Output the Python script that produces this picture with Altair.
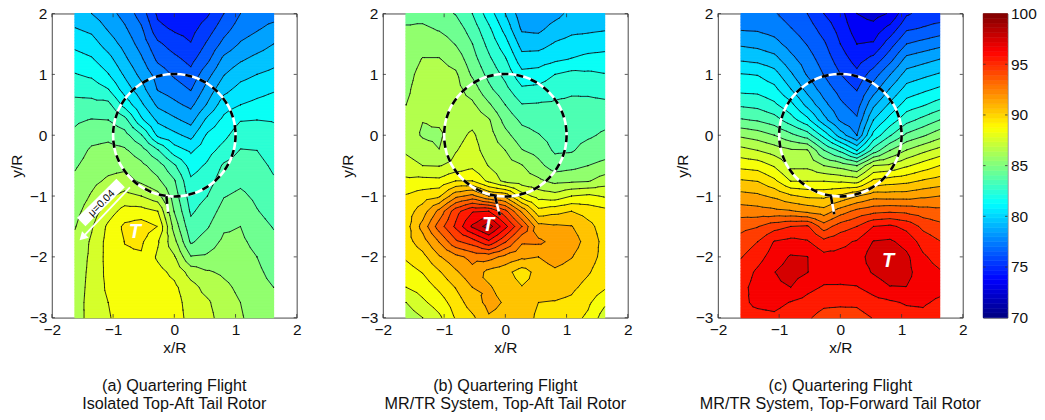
import numpy as np
import pandas as pd
import altair as alt

alt.data_transformers.disable_max_rows()

PANEL_A = [
 [79.4,80.05,80.75,81.4,82.05,82.7,83.3,83.85,84.2,84.55,84.9,85.2,85.45,85.7,85.95,86.2,86.4,86.5,86.55,86.6,86.65],
 [79,79.75,80.45,81.1,81.8,82.6,83.3,84.05,84.65,85.15,85.4,85.75,86.1,86.5,86.9,87.15,87.2,87.25,87.3,87.35,87.3],
 [78.4,78.9,79.55,80.35,81.05,82.05,83.3,84,84.75,85.3,85.7,86.15,86.8,87.5,88.2,88.35,88.35,88.3,88.2,88,87.9],
 [77.65,78.15,78.65,79.2,79.85,80.55,81.65,83.35,84.35,85.15,85.75,86.4,87.3,88.4,89.2,89.02,88.9,88.8,88.7,88.6,88.5],
 [76.55,77.15,77.6,78.15,78.7,79.4,80.2,81.2,83.1,84.45,85.25,85.8,87,88.4,89.5,89.15,88.9,88.8,88.7,88.6,88.5],
 [74.8,75.3,76.2,76.8,77.6,77.95,78.8,79.8,80.8,83.1,84.5,85.2,86.35,88,88.98,88.1,87.85,88.3,88.5,88.5,88.5],
 [74.3,74.85,75.55,76.25,76.85,77.5,78.25,79.2,80.25,81.45,83.15,84.1,84.5,84.95,85.6,86.3,87.1,87.75,88.2,88.45,88.55],
 [74.3,74.65,75.05,75.7,76.3,76.95,77.75,78.65,79.7,80.85,81.6,82.15,82.5,82.85,83.3,83.85,85.05,86.6,87.35,87.5,87.6],
 [74.85,75.5,76.15,76.75,77.65,78.4,79.1,80.25,81.15,81.65,82.15,82.55,83,83.45,83.9,84.5,85.15,86.1,86.65,87.15,87.35],
 [76,76.6,77.3,78.25,78.95,79.7,80.55,81.25,81.75,82.35,83.15,83.55,83.95,84.4,84.85,85.2,85.5,85.85,86.2,86.4,86.5],
 [77,77.5,78.1,78.85,79.65,80.35,81,81.95,82.55,83.05,83.45,83.8,84.2,84.6,85,85.2,85.4,85.6,85.8,86,86.1],
 [77.5,77.9,78.5,79.3,80,80.65,81.25,82,82.5,83,83.3,83.55,83.8,84.05,84.35,84.7,85,85.2,85.35,85.5,85.6],
 [77.6,78.3,79,79.65,80.25,80.9,81.45,81.95,82.25,82.55,82.85,83.1,83.4,83.65,83.95,84.2,84.45,84.7,85,85.2,85.4],
]
PANEL_B = [
 [84.7,85.1,85.35,85.5,85.7,85.85,86,86.25,86.5,86.85,87.4,88.2,89.1,89.5,89.6,89.6,89.15,88.55,88,87,86.4],
 [84.6,85.2,85.6,86.05,86.3,86.4,86.4,86.02,85.9,86.45,87,88.3,89.5,90.5,91.35,90.55,89.7,89.05,88.45,87.8,87],
 [84.3,84.9,85.55,86.05,86.4,86.5,86.45,86.2,85.8,86.02,86.95,88.25,89.85,92.3,93.5,92.05,90.9,89.9,89.2,88.5,87.8],
 [83.95,84.5,84.95,85.6,86.15,86.35,86.45,86.55,86.7,86.95,87.3,89,91.7,94.6,95.2,93.8,91.7,90.85,90.05,89.5,89.1],
 [83,83.55,84.02,84.4,84.85,85.55,86.2,86.7,87.15,87.4,87.75,89,92.3,95.9,97.15,94.5,92.3,91.7,91,90.5,89.8],
 [81.5,82.2,82.7,83.2,83.7,84.25,85.15,86.1,86.4,86.55,86.95,87.75,91,96,98.5,95.8,92.4,90.7,91.1,91.3,90.9],
 [80,80.65,81.4,82.1,82.7,83.3,84,84.65,85.3,86,86.4,86.7,90.7,94.3,96.3,94.1,91.7,90.35,90.6,90.9,90.7],
 [78.4,78.85,79.6,80.4,81.3,82.2,83.05,83.8,84.4,85.05,86.05,86.4,88.5,91.8,94,92.15,91.2,89.5,90.05,90.4,90.4],
 [78.2,78.75,79.6,80.5,81.4,82.3,83.1,83.6,84.05,84.65,85.3,86.2,87.6,89.35,91.35,92.2,91,90.4,90.3,90,89.85],
 [78.65,79.4,80.1,80.8,82,82.65,83.15,83.4,83.6,83.85,84.5,85.7,87.4,89.7,91.15,91.7,91.5,90.8,90.4,89.95,89.6],
 [79.3,79.75,80.35,81.05,82.3,82.85,83.2,83.4,83.65,83.9,84.7,85.8,88,90,91.05,91.5,91.05,90.55,90.2,89.8,89.4],
 [79.4,79.8,80.5,81.3,82.2,82.8,83.25,83.55,83.85,84.4,85,85.9,88.2,89.6,90.3,90.6,90.4,90.1,89.7,89.2,88.8],
 [79.55,79.9,80.65,81.35,82.05,82.65,83.2,83.7,84.15,84.6,85.25,86.5,87.9,89.3,89.55,89.7,89.7,89.5,89.15,88.2,87.5],
]
PANEL_C = [
 [77.3,77.9,78.85,79.85,81.05,81.75,82.85,84.1,85.8,87.35,88.7,90.1,91.35,92.5,93.7,94.4,94.95,95.4,95.7,95.8,95.7],
 [77.3,77.85,78.7,79.7,80.95,81.7,82.7,83.9,85.5,87,88.55,89.95,91.2,92.4,93.95,95,95.6,96.2,96.4,96.2,95.7],
 [77.1,77.6,78.35,79.35,80.4,81.3,82.2,83.45,85,86.55,87.9,89.2,90.8,92.25,94.6,96.05,96.5,96.98,96.8,96.3,95.8],
 [76.55,77.05,77.6,78.3,79.15,80.05,81.3,82.45,84.25,86.15,86.75,87.95,90.15,92.1,95,96.3,97.1,97.4,97,95.95,95.5],
 [76,76.5,76.95,77.45,77.9,78.7,79.7,81.3,83.5,86.1,86.75,87.95,89.8,91.75,95.15,96.1,97.02,97.03,96.3,95.65,95.15],
 [75,75.6,76.15,76.55,76.97,77.55,78.3,79.35,81.65,84.05,86,87.95,89.75,91.4,93.5,95.3,96.3,96.5,95.9,95.25,94.6],
 [74.35,74.65,75,75.5,76.02,76.65,77.2,77.85,79.5,82.75,85.6,87.8,90.2,92.5,94.5,95.75,96.3,96.4,95.9,95.2,94.5],
 [73,73.5,74,74.6,75.25,75.95,76.55,77.15,78,80.95,85,87.55,90.95,93.3,95,96.1,96.4,96.5,95.95,95.2,94.6],
 [72.6,73.4,74.1,75.3,76.5,77.55,78.8,80,81.3,83.4,87,89.2,91.6,93.7,96,97.05,97.6,97.1,96.4,95.65,95.05],
 [73.1,74.35,75.55,76.65,77.95,79.1,80.2,81.4,82.9,85,87.2,89.5,91.55,93.85,96.2,97.15,97.7,97.6,96.95,95.85,95.35],
 [74.85,75.85,77,78.3,79.4,80.4,81.45,82.65,84.2,86.05,87.85,89.7,91.55,93.75,95.7,96.65,97.2,97.3,96.98,96.1,95.6],
 [75.35,76.1,77.35,78.65,79.75,80.8,81.9,83.3,84.85,86.75,88.45,90.1,91.8,93.45,94.75,95.6,96.15,96.45,96.5,96.15,95.7],
 [75.4,76.4,77.7,79,80.1,81.2,82.45,84,85.6,87.35,89,90.4,92,93.3,94.3,95.05,95.6,96.1,96.35,95.8,95.2],
]
CAPTIONS = [
    ["(a) Quartering Flight", "Isolated Top-Aft Tail Rotor"],
    ["(b) Quartering Flight", "MR/TR System, Top-Aft Tail Rotor"],
    ["(c) Quartering Flight", "MR/TR System, Top-Forward Tail Rotor"],
]
X_TICKS = [-2, -1, 0, 1, 2]
Y_TICKS = [-3, -2, -1, 0, 1, 2]
BAR_TICKS = [70, 75, 80, 85, 90, 95, 100]
T_MARKS = [(-0.643, -1.59), (-0.283, -1.475), (0.779, -2.07)]
TAILS = [((-0.13, -1.0), (-0.10, -1.28)), ((-0.17, -1.0), (-0.09, -1.32)), ((-0.155, -1.0), (-0.10, -1.3))]
MU_BOX = ((-1.52, -1.425), (-0.877, -0.785))
MU_TEXT = (-1.186, -1.12)
MU_ARROW = ((-0.725, -0.856), (-1.50, -1.68))
X_GRID_START, X_GRID_STEP = -1.62, 0.27
Y_GRID_START, Y_GRID_STEP = 2.0, -0.25
W, H = 245.6, 305.0
FONT = "Liberation Sans"


def jet(v):
    t = np.clip((np.asarray(v, dtype=float) - 70) / 30, 0, 1)
    r = np.clip(np.minimum(4 * t - 1.5, -4 * t + 4.5), 0, 1)
    g = np.clip(np.minimum(4 * t - 0.5, -4 * t + 3.5), 0, 1)
    b = np.clip(np.minimum(4 * t + 0.5, -4 * t + 2.5), 0, 1)
    return r, g, b


def hexcol(v):
    r, g, b = jet(v)
    return "#%02x%02x%02x" % (int(r * 255 + .5), int(g * 255 + .5), int(b * 255 + .5))


def field(Z, x, y):
    """Piecewise-linear reading of the grid (each cell cut in four triangles)."""
    fx = (x - X_GRID_START) / X_GRID_STEP
    fy = (y - Y_GRID_START) / Y_GRID_STEP
    j = np.clip(np.floor(fx).astype(int), 0, Z.shape[0] - 2)
    i = np.clip(np.floor(fy).astype(int), 0, Z.shape[1] - 2)
    u, v = fx - j, fy - i
    a, b, c, d = Z[j, i], Z[j + 1, i], Z[j, i + 1], Z[j + 1, i + 1]
    m = (a + b + c + d) / 4
    bottom = (v <= u) & (v <= 1 - u)
    right = (v <= u) & (v > 1 - u)
    top = (v > u) & (v > 1 - u)
    z = np.where(bottom, 2 * v * m + (1 - u - v) * a + (u - v) * b,
        np.where(right, 2 * (1 - u) * m + (u - v) * b + (u + v - 1) * d,
        np.where(top, 2 * (1 - v) * m + (u + v - 1) * d + (v - u) * c,
                 2 * u * m + (v - u) * c + (1 - u - v) * a)))
    return z


def band_rects(Z):
    rows = 204
    ys = np.linspace(-3, 2, rows + 1)
    xs = np.linspace(X_GRID_START, -X_GRID_START, 399)
    mids = (xs[:-1] + xs[1:]) / 2
    out = []
    for k in range(rows):
        yc = (ys[k] + ys[k + 1]) / 2
        z = np.floor(field(Z, mids, np.full_like(mids, yc)))
        s = 0
        for e in range(1, len(z) + 1):
            if e == len(z) or z[e] != z[s]:
                out.append((round(xs[s], 3), round(xs[e], 3), round(ys[k], 3), round(ys[k + 1], 3),
                            hexcol(z[s] + .5)))
                s = e
    return pd.DataFrame(out, columns=["x0", "x1", "y0", "y1", "c"])


def contour_segments(Z):
    out = []
    nx, ny = Z.shape
    for j in range(nx - 1):
        for i in range(ny - 1):
            X = [X_GRID_START + j * X_GRID_STEP, X_GRID_START + (j + 1) * X_GRID_STEP]
            Y = [Y_GRID_START + i * Y_GRID_STEP, Y_GRID_START + (i + 1) * Y_GRID_STEP]
            p = [(X[0], Y[0], Z[j, i]), (X[1], Y[0], Z[j + 1, i]),
                 (X[1], Y[1], Z[j + 1, i + 1]), (X[0], Y[1], Z[j, i + 1])]
            c = (sum(X) / 2, sum(Y) / 2, sum(q[2] for q in p) / 4)
            for t in range(4):
                tri = [p[t], p[(t + 1) % 4], c]
                lo, hi = min(q[2] for q in tri), max(q[2] for q in tri)
                for lev in range(int(np.ceil(lo)), int(np.floor(hi)) + 1):
                    L = lev + 1e-7
                    pts = []
                    for e in range(3):
                        A, B = tri[e], tri[(e + 1) % 3]
                        if (A[2] - L) * (B[2] - L) < 0:
                            f = (L - A[2]) / (B[2] - A[2])
                            pts.append((A[0] + f * (B[0] - A[0]), A[1] + f * (B[1] - A[1])))
                    if len(pts) == 2:
                        out.append((round(pts[0][0], 4), round(pts[1][0], 4), round(pts[0][1], 4), round(pts[1][1], 4)))
    return pd.DataFrame(out, columns=["x0", "x1", "y0", "y1"])


xs = alt.Scale(domain=[-2, 2], nice=False, zero=False)
ys = alt.Scale(domain=[-3, 2], nice=False, zero=False)
AXIS_STYLE = dict(tickSize=0, domain=False, grid=False, labelFontSize=15.5, titleFontSize=15.5, labelFont=FONT,
                  titleFont=FONT, titleFontWeight="normal", labelColor="#111", titleColor="#111", labelFlush=False)
x_axis = alt.Axis(values=X_TICKS, title="x/R", labelPadding=5, titlePadding=2, **AXIS_STYLE)
y_axis = alt.Axis(values=Y_TICKS, title="y/R", labelPadding=5, titlePadding=5, **AXIS_STYLE)


def X(f):
    return alt.X(f, scale=xs, axis=x_axis)


def Y(f):
    return alt.Y(f, scale=ys, axis=y_axis)


def panel(cols, caption, tpos, tail):
    Z = np.array(cols, dtype=float)
    fill = band_rects(Z)
    base = alt.Chart(fill).mark_rect(strokeWidth=1.2).encode(
        x=X("x0:Q"), x2="x1:Q", y=Y("y0:Q"), y2="y1:Q",
        color=alt.Color("c:N", scale=None), stroke=alt.Stroke("c:N", scale=None))
    lines = alt.Chart(contour_segments(Z)).mark_rule(color="#111", strokeWidth=0.85, strokeCap="round").encode(
        x=X("x0:Q"), x2="x1:Q", y=Y("y0:Q"), y2="y1:Q")
    ring = pd.DataFrame({"x": [0.0], "y": [0.0]})
    ring_size = float((2 * W / 4) ** 2)
    enc = dict(x=X("x:Q"), y=Y("y:Q"))
    c1 = alt.Chart(ring).mark_point(shape="circle", size=ring_size, filled=False, stroke="white", strokeWidth=2.6, opacity=1).encode(**enc)
    c2 = alt.Chart(ring).mark_point(shape="circle", size=ring_size, filled=False, stroke="black", strokeWidth=2.6, strokeDash=[7, 8], opacity=1).encode(**enc)
    tl = pd.DataFrame({"x": [tail[0][0]], "x1": [tail[1][0]], "y": [tail[0][1]], "y1": [tail[1][1]]})
    renc = dict(x=X("x:Q"), x2="x1:Q", y=Y("y:Q"), y2="y1:Q")
    t1 = alt.Chart(tl).mark_rule(color="white", strokeWidth=2.6).encode(**renc)
    t2 = alt.Chart(tl).mark_rule(color="black", strokeWidth=2.6, strokeDash=[8, 8]).encode(**renc)
    tt = alt.Chart(pd.DataFrame({"x": [tpos[0]], "y": [tpos[1]]})).mark_text(
        text="T", color="white", font=FONT, fontSize=20, fontWeight="bold", fontStyle="italic").encode(**enc)
    xt = pd.DataFrame([(v, -3, -2.94) for v in X_TICKS] + [(v, 2, 1.94) for v in X_TICKS], columns=["x", "y", "y1"])
    yt = pd.DataFrame([(-2, -1.95, v) for v in Y_TICKS] + [(2, 1.95, v) for v in Y_TICKS], columns=["x", "x1", "y"])
    tk1 = alt.Chart(xt).mark_rule(color="#333", strokeWidth=0.8).encode(x=X("x:Q"), y=Y("y:Q"), y2="y1:Q")
    tk2 = alt.Chart(yt).mark_rule(color="#333", strokeWidth=0.8).encode(x=X("x:Q"), x2="x1:Q", y=Y("y:Q"))
    cap = []
    for k, line in enumerate(caption):
        cap.append(alt.Chart(pd.DataFrame({"t": [line]})).mark_text(
            font=FONT, fontSize=16.2, color="#111", baseline="middle", align="center").encode(
            x=alt.value(W / 2), y=alt.value(373.8 + k * 18), text="t:N"))
    return [base, lines, c1, c2, t1, t2, tt, tk1, tk2] + cap


layers_a = panel(PANEL_A, CAPTIONS[0], T_MARKS[0], TAILS[0])
box = pd.DataFrame({"x": [MU_BOX[0][0]], "x1": [MU_BOX[1][0]], "y": [MU_BOX[0][1]], "y1": [MU_BOX[1][1]]})
arr = pd.DataFrame({"x": [MU_ARROW[0][0]], "x1": [MU_ARROW[1][0]], "y": [MU_ARROW[0][1]], "y1": [MU_ARROW[1][1]]})
renc = dict(x=X("x:Q"), x2="x1:Q", y=Y("y:Q"), y2="y1:Q")
mu = [
    alt.Chart(box).mark_rule(color="white", strokeWidth=12).encode(**renc),
    alt.Chart(arr).mark_rule(color="white", strokeWidth=1.8).encode(**renc),
    alt.Chart(pd.DataFrame({"x": [MU_ARROW[1][0]], "y": [MU_ARROW[1][1]]})).mark_point(
        shape="triangle-up", filled=True, color="white", size=90, angle=225, opacity=1).encode(x=X("x:Q"), y=Y("y:Q")),
    alt.Chart(pd.DataFrame({"x": [MU_TEXT[0]], "y": [MU_TEXT[1]]})).mark_text(
        text="\u03bc=0.04", angle=315, font=FONT, fontSize=10.5, color="black").encode(x=X("x:Q"), y=Y("y:Q")),
]
pa = alt.layer(*layers_a, *mu).properties(width=W, height=H)
pb = alt.layer(*panel(PANEL_B, CAPTIONS[1], T_MARKS[1], TAILS[1])).properties(width=W, height=H)
pc = alt.layer(*panel(PANEL_C, CAPTIONS[2], T_MARKS[2], TAILS[2])).properties(width=W, height=H)

edges = np.linspace(70, 100, 65)
bar_df = pd.DataFrame({"y0": edges[:-1], "y1": edges[1:], "x0": 0, "x1": 1,
                       "c": [hexcol((a + b) / 2) for a, b in zip(edges[:-1], edges[1:])]})
bs = alt.Scale(domain=[70, 100], nice=False, zero=False)
bx = alt.Scale(domain=[0, 1], nice=False, zero=False)
bar_axis = alt.Axis(values=BAR_TICKS, title=None, orient="right", tickSize=0, domain=False,
                    grid=False, labelPadding=3, labelFontSize=15.5, labelFont=FONT, labelColor="#111", labelFlush=False)
bar = alt.Chart(bar_df).mark_rect(strokeWidth=0.6).encode(
    x=alt.X("x0:Q", scale=bx, axis=None), x2="x1:Q",
    y=alt.Y("y0:Q", scale=bs, axis=bar_axis),
    y2="y1:Q", color=alt.Color("c:N", scale=None), stroke=alt.Stroke("c:N", scale=None))
btk = pd.DataFrame([(0, 0.1, v) for v in BAR_TICKS[1:-1]] + [(1, 0.9, v) for v in BAR_TICKS[1:-1]], columns=["x", "x1", "y"])
bticks = alt.Chart(btk).mark_rule(color="#333", strokeWidth=0.8).encode(
    x=alt.X("x:Q", scale=bx, axis=None), x2="x1:Q", y=alt.Y("y:Q", scale=bs, axis=bar_axis))
cb = alt.layer(bar, bticks).properties(width=24.4, height=H)


def spacer(w):
    return alt.Chart(pd.DataFrame({"a": [0]})).mark_point(opacity=0).encode(
        x=alt.value(0), y=alt.value(0)).properties(width=w, height=H, view=alt.ViewBackground(stroke=None))


chart = alt.hconcat(pa, spacer(85.6), pb, spacer(90), pc, spacer(20), cb, spacing=0, bounds="flush").properties(
    padding={"left": 0, "top": -3, "right": 0, "bottom": 0}, background="white"
).configure_view(stroke="#333", strokeWidth=0.9)

chart.save("out.html", embed_options={"renderer": "svg", "actions": False})
